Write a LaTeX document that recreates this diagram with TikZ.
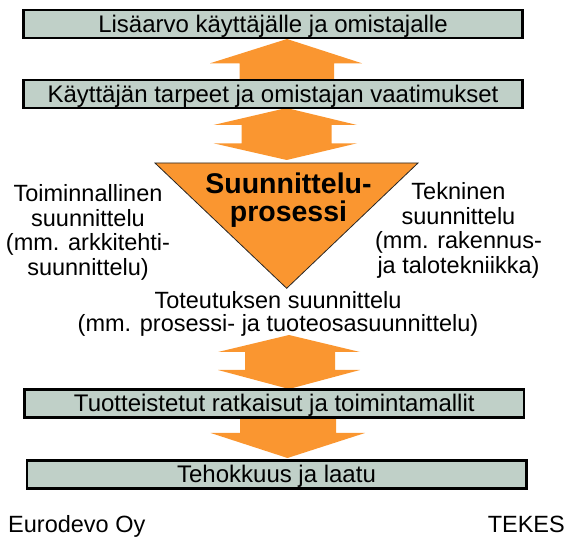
\documentclass[tikz,border=0pt]{standalone}
\usepackage{fontspec}
\setmainfont{Liberation Sans}
\definecolor{arroworange}{RGB}{250,150,48}
\definecolor{boxgrey}{RGB}{192,208,200}
\begin{document}
\begin{tikzpicture}[x=1pt,y=-1pt,
  bar/.style={draw=black,line width=2.6pt,fill=boxgrey,inner sep=0pt,
    minimum width=499.4pt,minimum height=28pt,text height=17pt,text depth=0pt,
    font=\fontsize{24}{28}\selectfont},
  blockarrow/.style={fill=arroworange,draw=none},
  lbl/.style={inner sep=0pt,align=center,anchor=base,font=\fontsize{23.5}{24.5}\selectfont}]
\useasboundingbox (0,0) rectangle (566,540);
% block arrows (behind the bars)
\fill[blockarrow] (287,39) -- (362,63.3) -- (334,63.3) -- (334,82) -- (239.5,82) -- (239.5,63.3) -- (210,63.3) -- cycle;
\fill[blockarrow] (286.5,108) -- (357,125) -- (331.7,125) -- (331.7,143.3) -- (357,143.3) -- (286.7,160) -- (213.5,143.3) -- (241.7,143.3) -- (241.7,125) -- (213.5,125) -- cycle;
\fill[blockarrow] (289,335) -- (360,352) -- (335,352) -- (335,370) -- (360,370) -- (289,389) -- (218,370) -- (245,370) -- (245,352) -- (218,352) -- cycle;
\fill[blockarrow] (240,417) -- (336,417) -- (336,433) -- (365,433) -- (287.5,458) -- (210.7,433) -- (240,433) -- cycle;
% bars
\node[bar] (b1) at (273,24) {Lisäarvo käyttäjälle ja omistajalle};
\node[bar] (b2) at (273,94) {Käyttäjän tarpeet ja omistajan vaatimukset};
\node[bar] (b3) at (274.3,403.5) {Tuotteistetut ratkaisut ja toimintamallit};
\node[bar] (b4) at (276.5,474.5) {Tehokkuus ja laatu};
% triangle
\filldraw[fill=arroworange,draw=black!85,line width=0.8pt] (155,163) -- (418,163) -- (286.7,288.3) -- cycle;
\node[lbl,font=\fontsize{28.5}{28.4}\selectfont\bfseries] (proc) at (288.5,221.7) {Suunnittelu-\\prosessi};
% labels
\node[lbl] (left) at (88,275.5) {Toiminnallinen\\suunnittelu\\(mm. arkkitehti-\\suunnittelu)};
\node[lbl] (right) at (458.5,273.5) {Tekninen\\suunnittelu\\(mm. rakennus-\\ja talotekniikka)};
\node[lbl,font=\fontsize{23.5}{23.4}\selectfont] (bottom) at (278,331.7) {Toteutuksen suunnittelu\\(mm. prosessi- ja tuoteosasuunnittelu)};
\node[lbl,anchor=base west] (euro) at (8,533) {Eurodevo Oy};
\node[lbl,anchor=base east] (tekes) at (565,533) {TEKES};
\end{tikzpicture}
\end{document}
